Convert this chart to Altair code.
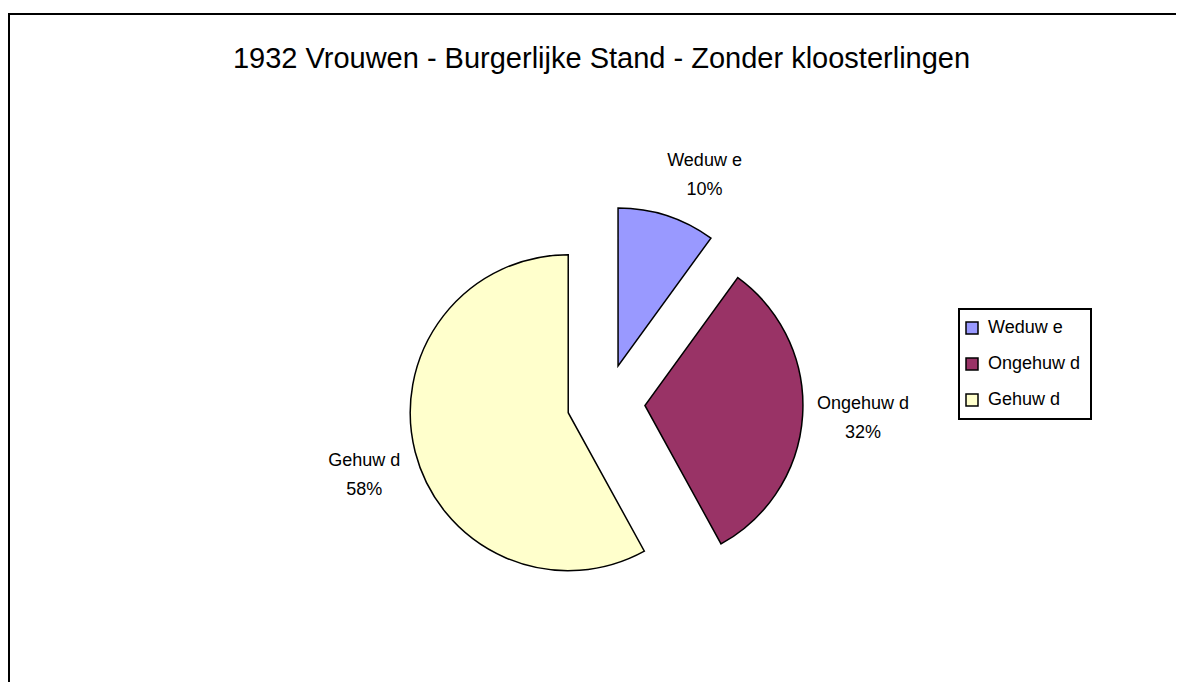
import altair as alt
import pandas as pd

# ---- data ----
categories = ["Weduw e", "Ongehuw d", "Gehuw d"]
percentages = [10, 32, 58]
colors = ["#9999FF", "#993366", "#FFFFCC"]
title_text = "1932 Vrouwen - Burgerlijke Stand - Zonder kloosterlingen"

df = pd.DataFrame({"cat": categories, "v": percentages})

# ---- layout constants ----
W, H = 1168, 674
CX, CY = 598, 395      # pie centre (pixels)
R = 158                # pie radius
EXPLODE = 39           # explosion distance
LA, LB = 178, 205      # label distances (horizontal, vertical)
FONT = "Liberation Sans"

base = (
    alt.Chart(df)
    .transform_joinaggregate(total="sum(v)")
    .transform_window(cum="sum(v)")
    .transform_calculate(
        t1="datum.cum / datum.total * 2 * PI",
        t0="(datum.cum - datum.v) / datum.total * 2 * PI",
    )
    .transform_calculate(mid="(datum.t0 + datum.t1) / 2")
    .transform_calculate(
        px=f"{CX} + {EXPLODE} * sin(datum.mid)",
        py=f"{CY} - {EXPLODE} * cos(datum.mid)",
    )
    .transform_calculate(
        lx=f"datum.px + {LA} * sin(datum.mid) + (sin(datum.mid) >= 0 ? 1 : -1) * 4.5 * length(datum.cat)",
        ly=f"datum.py - {LB} * cos(datum.mid) + 6 - 6 * sin(datum.mid)",
        pct="format(datum.v / datum.total, '.0%')",
    )
)

arcs = base.mark_arc(radius=R, stroke="black", strokeWidth=1.5).encode(
    x=alt.X("px:Q", scale=None, axis=None),
    y=alt.Y("py:Q", scale=None, axis=None),
    theta=alt.Theta("t0:Q", scale=None),
    theta2="t1:Q",
    color=alt.Color(
        "cat:N",
        scale=alt.Scale(domain=categories, range=colors),
        sort=categories,
        title=None,
        legend=alt.Legend(
            orient="none",
            legendX=951,
            legendY=301,
            padding=10,
            strokeColor="black",
            fillColor="white",
            symbolType="square",
            symbolSize=144,
            symbolStrokeColor="black",
            symbolStrokeWidth=1.5,
            symbolOpacity=1,
            symbolOffset=-6,
            labelFont=FONT,
            labelFontSize=18,
            labelColor="black",
            labelOffset=7,
            rowPadding=18,
        ),
    ),
)

names = base.mark_text(font=FONT, fontSize=18, color="black", baseline="middle", align="center", dy=-14.5).encode(
    x=alt.X("lx:Q", scale=None, axis=None),
    y=alt.Y("ly:Q", scale=None, axis=None),
    text="cat:N",
)

pcts = base.mark_text(font=FONT, fontSize=18, color="black", baseline="middle", align="center", dy=14.5).encode(
    x=alt.X("lx:Q", scale=None, axis=None),
    y=alt.Y("ly:Q", scale=None, axis=None),
    text="pct:N",
)

frame = alt.Chart(alt.Data(values=[{"f": 1}])).mark_rect(
    fill="white", stroke="black", strokeWidth=2
).encode(
    x=alt.value(1), y=alt.value(6), x2=alt.value(1400), y2=alt.value(900)
)

title = alt.Chart(alt.Data(values=[{"t": title_text}])).mark_text(
    font=FONT, fontSize=29, color="black", align="center", baseline="alphabetic"
).encode(x=alt.value(593.5), y=alt.value(59.5), text="t:N")

chart = (
    alt.layer(frame, arcs, names, pcts, title)
    .properties(width=W, height=H, padding=0, autosize="none")
    .configure_view(strokeWidth=0)
    .configure_legend(strokeWidth=2)
)

chart.save("out.html", embed_options={"renderer": "svg", "actions": False})
